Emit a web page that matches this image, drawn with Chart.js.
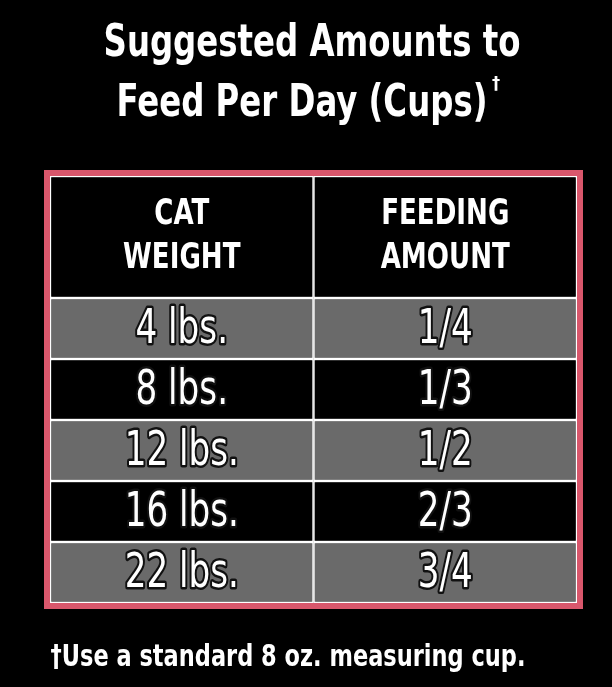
<!DOCTYPE html>
<html lang="en">
<head>
<meta charset="UTF-8">
<title>Suggested Amounts to Feed Per Day</title>
<script src="https://cdn.jsdelivr.net/npm/chart.js"></script>
<style>
  html, body { margin: 0; padding: 0; background: #000; }
  #wrap { width: 612px; height: 687px; }
</style>
</head>
<body>
<div id="wrap"><canvas id="tbl"></canvas></div>
<script>
const columns = ['CAT\nWEIGHT', 'FEEDING\nAMOUNT'];
const weights = ['4 lbs.', '8 lbs.', '12 lbs.', '16 lbs.', '22 lbs.'];
const amounts = ['1/4', '1/3', '1/2', '2/3', '3/4'];
const headerSpan = 2; // header row is about twice as tall as a data row
const rowFill = ['#6a6a6a', '#000000', '#6a6a6a', '#000000', '#6a6a6a'];

const FONT = '"DejaVu Sans Condensed", "DejaVu Sans", sans-serif';

// one dataset per row, floating bars across the two columns
const datasets = [{
  label: 'header',
  data: [[0, headerSpan], [0, headerSpan]],
  backgroundColor: '#000',
  borderColor: '#fff', borderWidth: 1.5, borderSkipped: false,
  grouped: false, categoryPercentage: 1, barPercentage: 1
}];
weights.forEach((w, i) => {
  datasets.push({
    label: w,
    data: [[headerSpan + i, headerSpan + i + 1], [headerSpan + i, headerSpan + i + 1]],
    backgroundColor: rowFill[i],
    borderColor: '#fff', borderWidth: 1.5, borderSkipped: false,
    grouped: false, categoryPercentage: 1, barPercentage: 1
  });
});

// draw text stretched vertically to mimic a tall condensed face
function tallText(ctx, txt, x, y, sy, stroke) {
  ctx.save();
  ctx.translate(x, y);
  ctx.scale(1, sy);
  if (stroke) ctx.strokeText(txt, 0, 0);
  ctx.fillText(txt, 0, 0);
  ctx.restore();
}

const textPlugin = {
  id: 'tableText',
  afterDatasetsDraw(chart) {
    const ctx = chart.ctx;
    const a = chart.chartArea;
    ctx.save();
    // pink frame
    ctx.strokeStyle = '#d9576c';
    ctx.lineWidth = 6;
    ctx.strokeRect(a.left - 3, a.top - 3, a.right - a.left + 6, a.bottom - a.top + 6);

    ctx.textAlign = 'center';
    ctx.textBaseline = 'middle';
    ctx.fillStyle = '#fff';

    // header labels
    const hm = chart.getDatasetMeta(0);
    hm.data.forEach((bar, c) => {
      const cy = (bar.y + bar.base) / 2;
      const lines = columns[c].split('\n');
      ctx.font = 'bold 29px ' + FONT;
      lines.forEach((ln, k) => tallText(ctx, ln, bar.x, cy + (k - 0.5) * 44, 1.25, false));
    });

    // body cells
    ctx.font = '38px ' + FONT;
    ctx.lineJoin = 'round';
    weights.forEach((w, i) => {
      const meta = chart.getDatasetMeta(i + 1);
      [w, amounts[i]].forEach((txt, c) => {
        const bar = meta.data[c];
        const cy = (bar.y + bar.base) / 2 + 2;
        ctx.strokeStyle = '#111';
        ctx.lineWidth = 4;
        tallText(ctx, txt, bar.x, cy, 1.25, true);
      });
    });

    // title and footnote
    ctx.font = 'bold 36px ' + FONT;
    tallText(ctx, 'Suggested Amounts to', 312, 44, 1.25, false);
    tallText(ctx, 'Feed Per Day (Cups)', 302, 104, 1.25, false);
    ctx.font = 'bold 18px ' + FONT;
    ctx.fillText('\u2020', 496, 84);
    ctx.font = 'bold 25px ' + FONT;
    tallText(ctx, '\u2020Use a standard 8 oz. measuring cup.', 288, 658, 1.2, false);
    ctx.restore();
  }
};

new Chart(document.getElementById('tbl'), {
  type: 'bar',
  data: { labels: columns, datasets },
  options: {
    responsive: true,
    maintainAspectRatio: false,
    animation: false,
    layout: { padding: { top: 176, bottom: 84, left: 50, right: 35 } },
    plugins: { legend: { display: false }, tooltip: { enabled: false } },
    scales: {
      x: { display: false },
      y: { display: false, reverse: true, min: 0, max: headerSpan + weights.length }
    }
  },
  plugins: [textPlugin]
});
</script>
</body>
</html>
